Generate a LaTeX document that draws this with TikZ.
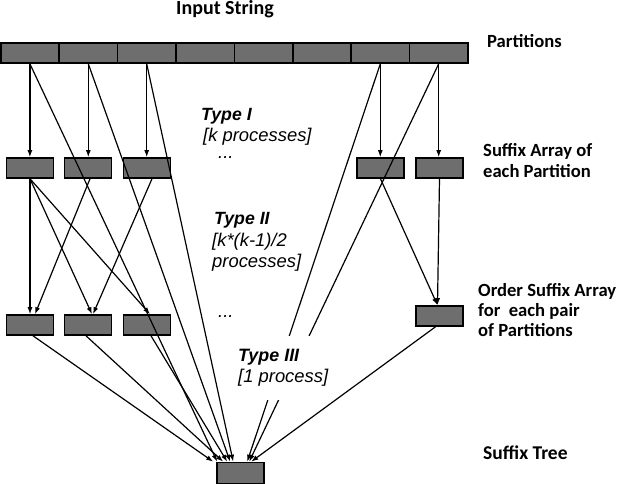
\documentclass[tikz,border=0pt]{standalone}
\usepackage{fontspec}
\setmainfont{Carlito}
\newfontfamily\arialf{Liberation Sans}
\usetikzlibrary{arrows.meta,calc}
\definecolor{boxgray}{RGB}{110,110,110}
\begin{document}
\begin{tikzpicture}[x=1pt,y=-1pt,
  blk/.style={draw=black, line width=1.6pt, fill=boxgray, minimum width=47pt, minimum height=20pt, inner sep=0pt},
  part/.style={blk, minimum width=58.4pt},
  lab/.style={font=\fontsize{18.6}{21}\selectfont\bfseries, inner sep=0pt, align=left, anchor=base west},
  tyb/.style={font=\arialf\fontsize{17.7}{21.5}\selectfont\bfseries\itshape, inner sep=0pt, anchor=base west},
  tyn/.style={font=\arialf\fontsize{18.4}{21.5}\selectfont\itshape, inner sep=0pt, align=left, anchor=base west},
  con/.style={line width=1.2pt},
  arr/.style={con, -{Latex[length=7pt,width=5pt]}}
]
\useasboundingbox (0,0) rectangle (625,484);

% partitions
\foreach \i in {1,...,8} {
  \node[part] (P\i) at ({29.9+58.4*(\i-1)},53) {};
}
% suffix arrays
\node[blk] (B1) at (30,168) {};
\node[blk] (B2) at (88,168) {};
\node[blk] (B3) at (147,168) {};
\node[blk] (B4) at (380.5,168) {};
\node[blk] (B5) at (439.5,168) {};
% ordered pair arrays
\node[blk] (R1) at (30,325) {};
\node[blk] (R2) at (88,325) {};
\node[blk] (R3) at (147,325) {};
\node[blk] (R4) at (439.5,316) {};
% suffix tree
\node[blk, minimum height=21pt] (ST) at (240.5,473) {};

% Type I
\draw[arr] (P1.south) -- (P1.south |- B1.north);
\draw[arr] (P2.south) -- (P2.south |- B2.north);
\draw[arr] (P3.south) -- (P3.south |- B3.north);
\draw[arr] (P7.south) -- (P7.south |- B4.north);
\draw[arr] (P8.south) -- (P8.south |- B5.north);

% Type II
\draw[arr] (B1.south) -- (B1.south |- R1.north);
\draw[arr] (B1.south) -- ([xshift=4pt]R2.north);
\draw[arr] (B1.south) -- ([xshift=3pt]R3.north);
\draw[arr] ([xshift=2pt]B2.south) -- ([xshift=5pt]R1.north);
\draw[arr] ([xshift=5pt]B3.south) -- ([xshift=5pt]R2.north);
\draw[arr] (B4.south) -- ([xshift=-2pt]R4.north);
\draw[arr] (B5.south) -- ([xshift=-2pt]R4.north);

% Type III (to the suffix tree)
\draw[arr] ([xshift=3pt]R1.south) -- ([xshift=-3pt]ST.north west);
\draw[arr] ([xshift=-2pt]R2.south) -- ([xshift=7pt]ST.north west);
\draw[arr] ([xshift=4pt]R3.south) -- ([xshift=11pt]ST.north west);
\draw[arr] ([xshift=-4pt]R4.south) -- ([xshift=35pt]ST.north west);
\draw[arr] (P1.south) -- ([xshift=1pt]ST.north west);
\draw[arr] (P2.south) -- ([xshift=14pt]ST.north west);
\draw[arr] (P3.south) -- ([xshift=17pt]ST.north west);
\draw[arr] (P7.south) -- ([xshift=31pt]ST.north west);
\draw[arr] (P8.south) -- ([xshift=33pt]ST.north west);

% labels (base anchor of a multi-line node = last line)
\node[lab, font=\fontsize{20}{22}\selectfont\bfseries] (inp) at (176,15) {Input String};
\node[lab] (partl) at (487,48) {Partitions};
\node[lab] (sal) at (483,178) {Suffix Array of\\each Partition};
\node[lab, font=\fontsize{18.6}{20.3}\selectfont\bfseries] (osl) at (478,337) {Order Suffix Array\\for \ each pair\\of Partitions};
\node[lab, font=\fontsize{19.5}{21}\selectfont\bfseries] (stl) at (483,459) {Suffix Tree};

\node[tyb] (t1) at (201,121) {Type I};
\node[tyn] (t1d) at (203,142) {[k processes]};
\node[tyn] (d1) at (218,159) {...};
\node[tyb] (t2) at (214,225) {Type II};
\node[tyn] (t2d) at (212,268) {[k*(k-1)/2\\processes]};
\node[tyn] (d2) at (218,318) {...};
\node[tyn, fill=white, inner xsep=5pt, inner ysep=13pt] (t3) at (233,383) {{\fontsize{17.9}{21.5}\selectfont\bfseries Type III}\\{[1 process]}};
\end{tikzpicture}
\end{document}
